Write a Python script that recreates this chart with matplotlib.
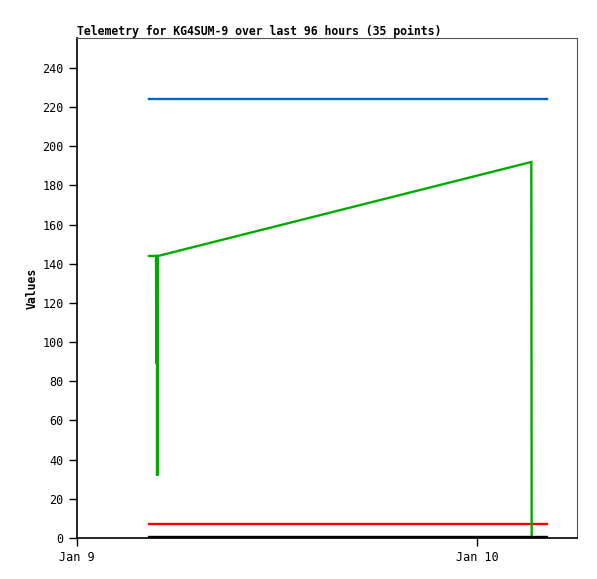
import matplotlib
matplotlib.use("Agg")
import matplotlib.pyplot as plt
import pandas as pd

# ---- data ----
start = pd.Timestamp("2025-01-09 00:00")
hours = [4.32, 4.40, 4.48, 4.56, 4.64, 4.70, 4.74, 4.765, 4.77, 4.775, 4.78,
         4.80, 4.805, 4.81, 4.815, 4.82, 4.83, 4.86,
         27.26, 27.28, 27.34, 27.40, 27.46, 27.52, 27.58, 27.64, 27.70, 27.76,
         27.82, 27.88, 27.94, 28.00, 28.06, 28.12, 28.17]
blue_vals = [224.2] * 35
red_vals = [7.1] * 35
green_vals = [144, 144, 144, 144, 144, 144, 144, 89, 144, 89, 144,
              144, 32, 144, 32, 144, 144, 144,
              192, 0, 0, 0, 0, 0, 0, 0, 0, 0, 0, 0, 0, 0, 0, 0, 0]
black_vals = [0.3] * 35
yticks = list(range(0, 241, 20))
xtick_labels = ["Jan 9", "Jan 10"]
xtick_days = [0, 1]
title = "Telemetry for KG4SUM-9 over last 96 hours (35 points)"
ylabel = "Values"

times = [start + pd.Timedelta(hours=h) for h in hours]

fig = plt.figure(figsize=(5.97, 5.79), dpi=100)
ax = fig.add_axes([77 / 597, 41 / 579, 500 / 597, 500 / 579])

kw = dict(linewidth=1.7, solid_joinstyle="miter")
ax.plot(times, blue_vals, color="#0066cc", zorder=2, **kw)
ax.plot(times, red_vals, color="#ff0000", zorder=3, **kw)
ax.plot(times, green_vals, color="#00aa00", zorder=4, **kw)
ax.plot(times, black_vals, color="#000000", zorder=5, clip_on=False, **kw)

ax.set_xlim(start, start + pd.Timedelta(hours=30))
ax.set_ylim(0, 255.3)
ax.set_yticks(yticks)
ax.set_xticks([start + pd.Timedelta(days=d) for d in xtick_days])
ax.set_xticklabels(xtick_labels)

for lab in ax.get_xticklabels() + ax.get_yticklabels():
    lab.set_fontfamily("DejaVu Sans Mono")
    lab.set_fontsize(8.5)
ax.tick_params(axis="both", direction="out", length=5.5, width=1, color="black",
               pad=4)

ax.spines["left"].set_color("black")
ax.spines["bottom"].set_color("black")
ax.spines["left"].set_linewidth(1.2)
ax.spines["bottom"].set_linewidth(1.2)
ax.spines["top"].set_color("#555555")
ax.spines["right"].set_color("#555555")

ax.set_title(title, loc="left", fontfamily="DejaVu Sans Mono", fontweight="bold",
             fontsize=8.3, pad=2.5)
ax.set_ylabel(ylabel, fontfamily="DejaVu Sans Mono", fontweight="bold",
              fontsize=8.3, labelpad=3)

fig.savefig("out.png", dpi=100)
